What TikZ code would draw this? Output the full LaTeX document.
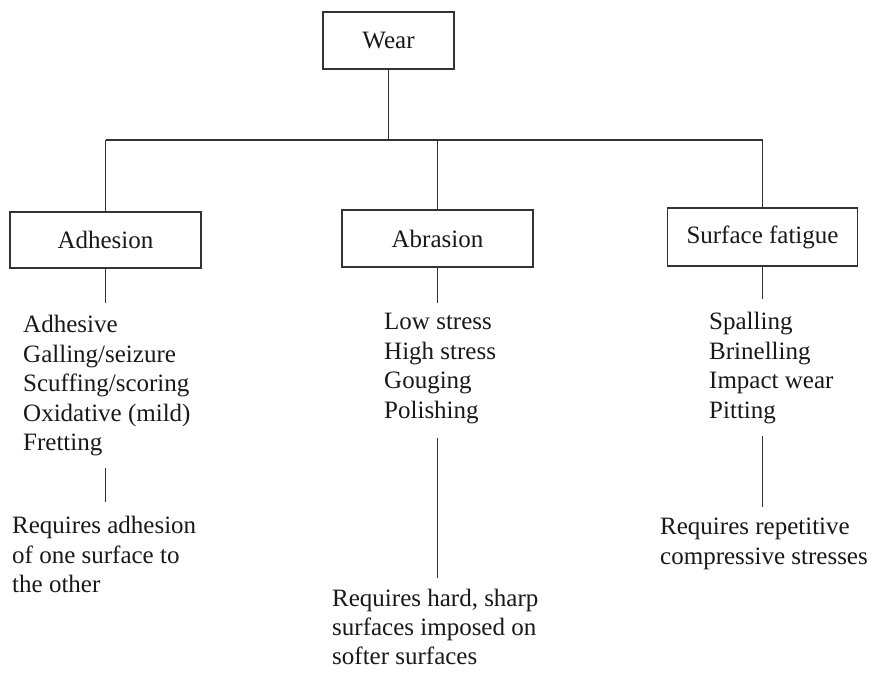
\documentclass[tikz,border=0pt]{standalone}
\usepackage{fontspec}
\setmainfont{Liberation Serif}
\begin{document}
\begin{tikzpicture}[x=1pt,y=-1pt,
  catbox/.style={draw=black!80, line width=1.4pt, rectangle, minimum height=57pt, inner sep=0pt, text=black!90, font=\fontsize{25}{29.5}\selectfont},
  lst/.style={anchor=north west, inner sep=0pt, align=left, text=black!90, font=\fontsize{25}{29.5}\selectfont},
  conn/.style={draw=black!80, line width=1.2pt}]
\useasboundingbox[fill=white] (0,0) rectangle (869,672);

% boxes
\node[catbox, minimum width=131pt] (wear) at (388.5,40.5) {Wear};
\node[catbox, minimum width=191pt, minimum height=56pt] (adh) at (105.5,240) {Adhesion};
\node[catbox, minimum width=191pt] (abr) at (437.5,238.5) {Abrasion};
\node[catbox, minimum width=190pt, minimum height=58pt] (sf) at (762.5,237) {Surface fatigue};

% bus
\coordinate (jW) at (388.5,140);
\coordinate (jL) at (105.5,140);
\coordinate (jM) at (437.5,140);
\coordinate (jR) at (762.5,140);
\draw[conn] (wear.south) -- (jW);
\draw[conn] (jL) -- (jR);
\draw[conn] (jL) -- (adh.north);
\draw[conn] (jM) -- (abr.north);
\draw[conn] (jR) -- (sf.north);

% lists
\node[lst] (adhl) at (23,315) {Adhesive\\Galling/seizure\\Scuffing/scoring\\Oxidative (mild)\\Fretting};
\node[lst] (abrl) at (384,313) {Low stress\\High stress\\Gouging\\Polishing};
\node[lst] (sfl) at (709,312) {Spalling\\Brinelling\\Impact wear\\Pitting};

\coordinate (adhA) at (105.5,303);
\coordinate (abrA) at (437.5,303);
\coordinate (sfA) at (762.5,299);
\draw[conn] (adh.south) -- (adhA);
\draw[conn] (abr.south) -- (abrA);
\draw[conn] (sf.south) -- (sfA);

% requirements
\node[lst] (adhr) at (12,516) {Requires adhesion\\of one surface to\\the other};
\node[lst, font=\fontsize{25}{28.8}\selectfont] (abrr) at (332,589) {Requires hard, sharp\\surfaces imposed on\\softer surfaces};
\node[lst] (sfr) at (660,518) {Requires repetitive\\compressive stresses};

\coordinate (adhB1) at (105.5,468);
\coordinate (adhB2) at (105.5,502);
\coordinate (abrB1) at (437.5,438);
\coordinate (abrB2) at (437.5,578);
\coordinate (sfB1) at (762.5,436);
\coordinate (sfB2) at (762.5,507);
\draw[conn] (adhB1) -- (adhB2);
\draw[conn] (abrB1) -- (abrB2);
\draw[conn] (sfB1) -- (sfB2);
\end{tikzpicture}
\end{document}
